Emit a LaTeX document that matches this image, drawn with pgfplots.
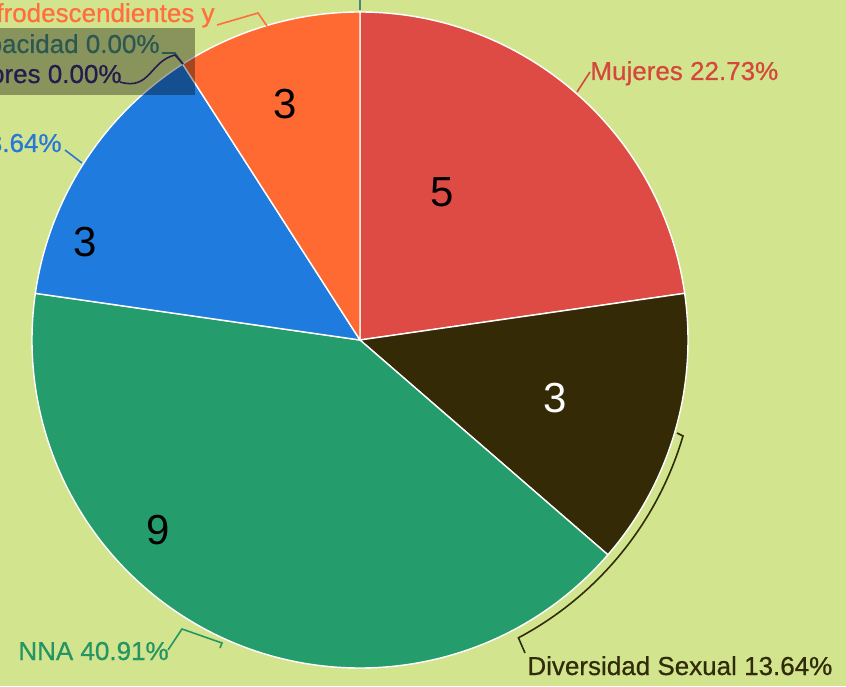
\documentclass[border=0pt]{standalone}
\usepackage{pgfplots}
\usepackage{pgfplotstable}
\pgfplotsset{compat=1.18}
\usepackage{fontspec}
\setmainfont{Liberation Sans}
\newfontfamily\labfont{Liberation Sans}[FakeBold=0.7]
\definecolor{bg}{RGB}{211,228,143}
\definecolor{cMuj}{RGB}{221,75,68}
\definecolor{cDiv}{RGB}{52,42,6}
\definecolor{cNNA}{RGB}{37,156,108}
\definecolor{cBlue}{RGB}{31,123,221}
\definecolor{cOra}{RGB}{255,106,51}
\definecolor{tMuj}{RGB}{212,72,60}
\definecolor{tDiv}{RGB}{48,44,8}
\definecolor{tNNA}{RGB}{36,150,100}
\definecolor{tBlue}{RGB}{40,120,215}
\definecolor{tOra}{RGB}{255,110,60}
\definecolor{tDis}{RGB}{70,135,125}
\definecolor{tAdu}{RGB}{55,45,120}

% slice values (angles) and the numbers printed on the slices
\pgfplotstableread{
name value shown color tcol
Mujeres 5 5 cMuj black
Diversidad 3 3 cDiv white
NNA 9 9 cNNA black
Azul 3 3 cBlue black
Afro 2 3 cOra black
}\datatable
\def\total{22}
% label positions of the numbers (pixel coords, y up)
\pgfplotstableread{
x y
442 494
555 288
158 156
85 444
285 582
}\labelpos

\begin{document}
\begin{tikzpicture}
\clip (0,0) rectangle (423pt,343pt);
\fill[bg] (0,0) rectangle (423pt,343pt);
\begin{axis}[at={(0,0)}, anchor=south west, scale only axis,
  width=423pt, height=343pt, xmin=0, xmax=846, ymin=0, ymax=686,
  hide axis, clip=false]
\addplot[draw=none] coordinates {(0,0) (846,686)};
\pgfplotstablegetrowsof{\datatable}
\pgfmathtruncatemacro\N{\pgfplotsretval-1}
\def\cum{0}
\pgfplotsforeachungrouped \i in {0,...,\N}{
  \pgfplotstablegetelem{\i}{value}\of\datatable \let\v\pgfplotsretval
  \pgfplotstablegetelem{\i}{color}\of\datatable \let\c\pgfplotsretval
  \pgfplotstablegetelem{\i}{shown}\of\datatable \let\s\pgfplotsretval
  \pgfplotstablegetelem{\i}{tcol}\of\datatable \let\tc\pgfplotsretval
  \pgfplotstablegetelem{\i}{x}\of\labelpos \let\lx\pgfplotsretval
  \pgfplotstablegetelem{\i}{y}\of\labelpos \let\ly\pgfplotsretval
  \pgfmathsetmacro\a{90-\cum*360/\total}
  \pgfmathsetmacro\b{90-(\cum+\v)*360/\total}
  \edef\temp{\noexpand\fill[\c, draw=white, line width=0.7pt, line join=round] (axis cs:360,346) -- ++(\a:164pt) arc[start angle=\a, end angle=\b, radius=164pt] -- cycle;
    \noexpand\node[text=\tc, font=\noexpand\fontsize{21}{24}\noexpand\selectfont] at (axis cs:\lx,\ly) {\s};}
  \temp
  \pgfmathsetmacro\cum{\cum+\v}
}
% leader lines
\draw[tMuj, line width=0.8pt] (axis cs:590,614) -- (axis cs:577,594);
\draw[tOra, line width=0.8pt] (axis cs:217,661) -- (axis cs:258,673) -- (axis cs:267,660);
\draw[tDis, line width=0.8pt] (axis cs:162,633) -- (axis cs:175,633) -- (axis cs:183,622);
\draw[tAdu, line width=0.8pt] (axis cs:120,604) .. controls (axis cs:150,595) and (axis cs:150,625) .. (axis cs:175,631) -- (axis cs:183,622);
\draw[tBlue, line width=0.8pt] (axis cs:65,536) -- (axis cs:82,523);
\draw[tNNA, line width=0.8pt] (axis cs:168,36) -- (axis cs:182,57) -- (axis cs:222,43) -- (axis cs:220,38);
\draw[tDiv, line width=0.8pt] (axis cs:677,253) -- (axis cs:683,250) arc[start angle=-16.4, end angle=-62, radius=168pt] -- (axis cs:525,33);
\draw[tDis, line width=0.6pt] (axis cs:360,686) -- (axis cs:360,676);
% labels
\begin{scope}[font=\labfont\fontsize{13}{15}\selectfont]
\node[anchor=base west, text=tMuj, inner sep=0pt] at (axis cs:590,606) {Mujeres 22.73\%};
\node[anchor=base west, text=tDiv, inner sep=0pt] at (axis cs:527,11) {Diversidad Sexual 13.64\%};
\node[anchor=base west, text=tNNA, inner sep=0pt] at (axis cs:18,26) {NNA 40.91\%};
\node[anchor=base east, text=tBlue, inner sep=0pt] at (axis cs:62,534) {13.64\%};
\node[anchor=base east, text=tOra, inner sep=0pt] at (axis cs:215,664) {Afrodescendientes y};
\node[anchor=base east, text=tDis, inner sep=0pt] at (axis cs:160,633) {Discapacidad 0.00\%};
\node[anchor=base east, text=tAdu, inner sep=0pt] at (axis cs:122,603) {Adultos Mayores 0.00\%};
\end{scope}
\fill[black, opacity=0.35] (axis cs:0,591) rectangle (axis cs:195,658);
\end{axis}
\end{tikzpicture}
\end{document}
